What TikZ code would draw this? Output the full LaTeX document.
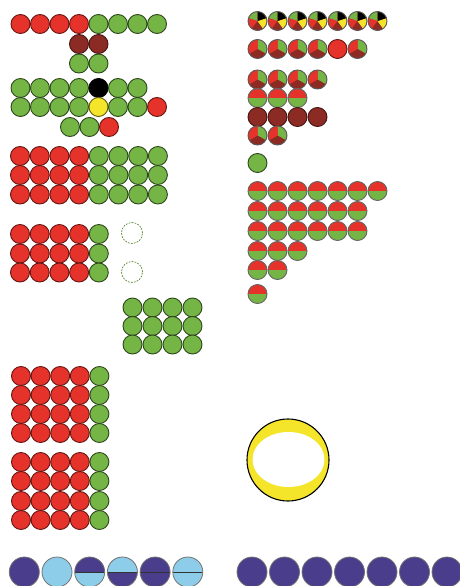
\documentclass[tikz,border=0pt]{standalone}
\usepackage{xcolor}
\usepackage{tikz}
\usetikzlibrary{shapes.geometric}

\definecolor{bred}{HTML}{E5322A}
\definecolor{bgreen}{HTML}{74B546}
\definecolor{bdark}{HTML}{8C2A24}
\definecolor{byellow}{HTML}{F4E52A}
\definecolor{bpurple}{HTML}{4A3E8C}
\definecolor{bsky}{HTML}{8DCDEA}

% one wedge of a pie, inside a path picture
\newcommand{\pieslice}[3]{\fill[#1] (path picture bounding box.center) -- ++(#2:14pt) arc[start angle=#2,end angle=#3,radius=14pt] -- cycle;}

\begin{document}
\begin{tikzpicture}[
    x=1pt, y=1pt,
    ball/.style={circle,minimum size=19pt,inner sep=0pt,line width=0.9pt},
    redball/.style={ball,fill=bred,draw=bred!45!black},
    greenball/.style={ball,fill=bgreen,draw=bgreen!40!black},
    darkball/.style={ball,fill=bdark,draw=bdark!50!black},
    blackball/.style={ball,fill=black,draw=black},
    yellowball/.style={ball,fill=byellow,draw=byellow!40!black},
    pieV/.style={ball,fill=bred,draw=black!65,path picture={
        \pieslice{bgreen}{90}{162}\pieslice{bred}{162}{234}\pieslice{bdark}{234}{306}
        \pieslice{byellow}{306}{378}\pieslice{black}{18}{90}}},
    pieIII/.style={ball,fill=bred,draw=black!65,path picture={
        \pieslice{bgreen}{-30}{90}\pieslice{bdark}{-150}{-30}\pieslice{bred}{90}{210}}},
    halfball/.style={ball,fill=bgreen,draw=black!60,path picture={
        \fill[bred] (path picture bounding box.west) rectangle (path picture bounding box.north east);}},
    ghost/.style={circle,minimum size=21pt,inner sep=0pt,draw=bgreen!75!black,line width=0.7pt,dash pattern=on 1.8pt off 1.2pt},
    bigball/.style={circle,minimum size=30pt,inner sep=0pt,line width=0.8pt,draw=black!55},
    deep/.style={bigball,fill=bpurple},
    sky/.style={bigball,fill=bsky},
    midline/.style={line width=0.8pt,black!80},
    deepsky/.style={bigball,fill=bsky,path picture={
        \fill[bpurple] (path picture bounding box.west) rectangle (path picture bounding box.north east);
        \draw[midline] (path picture bounding box.west) -- (path picture bounding box.east);}},
    skydeep/.style={bigball,fill=bpurple,path picture={
        \fill[bsky] (path picture bounding box.west) rectangle (path picture bounding box.north east);
        \draw[midline] (path picture bounding box.west) -- (path picture bounding box.east);}},
    deepdeep/.style={bigball,fill=bpurple,path picture={
        \draw[midline] (path picture bounding box.west) -- (path picture bounding box.east);}},
    skysky/.style={bigball,fill=bsky,path picture={
        \draw[midline] (path picture bounding box.west) -- (path picture bounding box.east);}},
]
\useasboundingbox (0,0) rectangle (460,-586);
% Top left: rows (y, first x, balls)
\foreach \y/\xo/\row [count=\j] in {
    24/20.5/{redball,redball,redball,redball,greenball,greenball,greenball,greenball},
    44/79/{darkball,darkball},
    63.5/79/{greenball,greenball},
    88/20.5/{greenball,greenball,greenball,greenball,blackball,greenball,greenball},
    107/20.5/{greenball,greenball,greenball,greenball,yellowball,greenball,greenball,redball},
    127/70/{greenball,greenball,redball}} {
    \foreach \s [count=\i] in \row
        \node[\s] (t\j-\i) at ({\xo+19.5*(\i-1)},-\y) {};
}
% Red/green blocks
\foreach \y [count=\j] in {156,175,194.5}
    \foreach \s [count=\i] in {redball,redball,redball,redball,greenball,greenball,greenball,greenball}
        \node[\s] (p\j-\i) at ({20+19.7*(\i-1)},-\y) {};
\foreach \y [count=\j] in {234,253.5,272.5}
    \foreach \s [count=\i] in {redball,redball,redball,redball,greenball}
        \node[\s] (q\j-\i) at ({20+19.7*(\i-1)},-\y) {};
\node[ghost] (g1) at (132,-233) {};
\node[ghost] (g2) at (132,-272) {};
\foreach \y [count=\j] in {307.5,326,344.5}
    \foreach \i in {1,...,4}
        \node[greenball] (m\j-\i) at ({132.5+20*(\i-1)},-\y) {};
\foreach \y [count=\j] in {376,395,414,433,462,481,501,520}
    \foreach \s [count=\i] in {redball,redball,redball,redball,greenball}
        \node[\s] (w\j-\i) at ({21+19.6*(\i-1)},-\y) {};
% Top right: mixed rows
\foreach \y/\row [count=\j] in {
    21/{pieV,pieV,pieV,pieV,pieV,pieV,pieV},
    49/{pieIII,pieIII,pieIII,pieIII,redball,pieIII},
    79.5/{pieIII,pieIII,pieIII,pieIII},
    98/{halfball,halfball,halfball},
    117/{darkball,darkball,darkball,darkball},
    135.5/{pieIII,pieIII},
    163/{greenball}} {
    \foreach \s [count=\i] in \row
        \node[\s] (r\j-\i) at ({257.5+20*(\i-1)},-\y) {};
}
% Half balls: (y, how many)
\foreach \y/\n [count=\j] in {191/7,211/6,231/6,251/3,270/2,294/1}
    \foreach \i in {1,...,\n}
        \node[halfball] (h\j-\i) at ({257.5+20*(\i-1)},-\y) {};
% Ring
\node[circle,minimum size=82pt,inner sep=0pt,fill=byellow,draw=black,line width=1.1pt] (ring) at (288,-460) {};
\node[ellipse,minimum width=72pt,minimum height=55pt,inner sep=0pt,fill=white] (hole) at (288.5,-459.5) {};
% Bottom row
\foreach \s [count=\i] in {deep,sky,deepsky,skydeep,deepdeep,skysky}
    \node[\s] (u\i) at ({24.3+32.7*(\i-1)},-572) {};
\foreach \i in {1,...,7}
    \node[deep] (v\i) at ({252+32.5*(\i-1)},-572) {};
\end{tikzpicture}
\end{document}
